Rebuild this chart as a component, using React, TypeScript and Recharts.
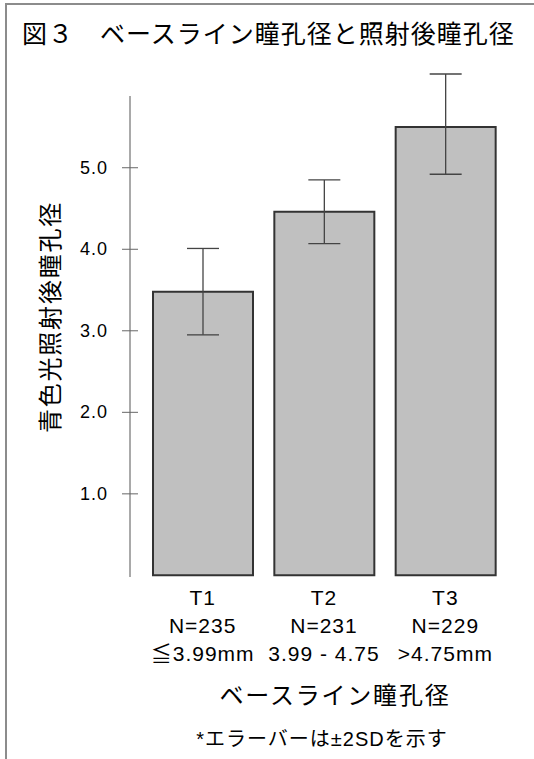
import React from "react";
import { BarChart, Bar, XAxis, YAxis, ErrorBar } from "recharts";

// groups on the x axis (three text lines under each bar)
const groups = ["T1", "T2", "T3"];
const counts = ["N=235", "N=231", "N=229"];
const ranges = ["≦3.99mm", "3.99 - 4.75", ">4.75mm"];

// mean pupil diameter after light, with ±2SD error (lower, upper)
const means = [3.48, 4.46, 5.5];
const errLow = [0.53, 0.39, 0.58];
const errHigh = [0.53, 0.39, 0.65];

const yTicks = [1, 2, 3, 4, 5];

const data = groups.map((g, i) => ({
  name: g,
  value: means[i],
  err: [errLow[i], errHigh[i]],
}));

const FONT = "'Liberation Sans', 'Noto Sans CJK JP', sans-serif";

const XTick = (props: any) => {
  const { x, y, payload } = props;
  const i = groups.indexOf(payload.value);
  const style = { fontFamily: FONT, fontSize: 21, letterSpacing: 1, fill: "#000" };
  return (
    <g>
      <text x={x} y={y + 28} textAnchor="middle" style={style}>{groups[i]}</text>
      <text x={x} y={y + 56} textAnchor="middle" style={style}>{counts[i]}</text>
      <text x={x} y={y + 84} textAnchor="middle" style={style}>{ranges[i]}</text>
    </g>
  );
};

const YTick = (props: any) => {
  const { x, y, payload } = props;
  return (
    <g>
      <line x1={x + 14} x2={x + 30} y1={y} y2={y} stroke="#666" strokeWidth={1} />
      <text
        x={x}
        y={y}
        textAnchor="end"
        dominantBaseline="central"
        style={{ fontFamily: FONT, fontSize: 18, letterSpacing: 1, fill: "#000" }}
      >
        {Number(payload.value).toFixed(1)}
      </text>
    </g>
  );
};

export default function App() {
  return (
    <div
      style={{
        position: "absolute",
        left: 0,
        top: 0,
        width: 534,
        height: 759,
        overflow: "hidden",
        background: "#fff",
      }}
    >
      <div
        style={{
          position: "absolute",
          left: 5,
          top: 3,
          width: 600,
          height: 820,
          border: "2px solid #8c8c8c",
        }}
      />
      <BarChart
        width={534}
        height={759}
        data={data}
        margin={{ top: 96, right: 28, bottom: 82, left: 0 }}
        style={{ position: "absolute", left: 0, top: 0 }}
      >
        <XAxis
          dataKey="name"
          height={100}
          axisLine={false}
          tickLine={false}
          tickSize={0}
          tickMargin={0}
          padding={{ left: 12, right: 0 }}
          tick={<XTick />}
          interval={0}
        />
        <YAxis
          width={130}
          domain={[-0.02, 5.88]}
          allowDataOverflow
          ticks={yTicks}
          tickSize={8}
          tickMargin={14}
          tickLine={false}
          axisLine={{ stroke: "#555", strokeWidth: 1 }}
          tick={<YTick />}
        />
        <Bar
          dataKey="value"
          barSize={100}
          fill="#c0c0c0"
          stroke="#333"
          strokeWidth={2}
          isAnimationActive={false}
        >
          <ErrorBar dataKey="err" width={16} stroke="#444" strokeWidth={1.3} direction="y" />
        </Bar>
      </BarChart>
      <svg
        width={534}
        height={759}
        style={{ position: "absolute", left: 0, top: 0, pointerEvents: "none" }}
      >
        <text
          x={22}
          y={34}
          dominantBaseline="central"
          style={{ fontFamily: FONT, fontSize: 25, letterSpacing: 1, fill: "#000" }}
        >
          図３　ベースライン瞳孔径と照射後瞳孔径
        </text>
        <text
          x={50}
          y={317}
          textAnchor="middle"
          dominantBaseline="central"
          transform="rotate(-90, 50, 317)"
          style={{ fontFamily: FONT, fontSize: 24, letterSpacing: 1.8, fill: "#000" }}
        >
          青色光照射後瞳孔径
        </text>
        <text
          x={335}
          y={695}
          textAnchor="middle"
          dominantBaseline="central"
          style={{ fontFamily: FONT, fontSize: 24, letterSpacing: 1.8, fill: "#000" }}
        >
          ベースライン瞳孔径
        </text>
        <text
          x={322}
          y={739}
          textAnchor="middle"
          dominantBaseline="central"
          style={{ fontFamily: FONT, fontSize: 20, letterSpacing: 1, fill: "#000" }}
        >
          *エラーバーは±2SDを示す
        </text>
      </svg>
    </div>
  );
}
